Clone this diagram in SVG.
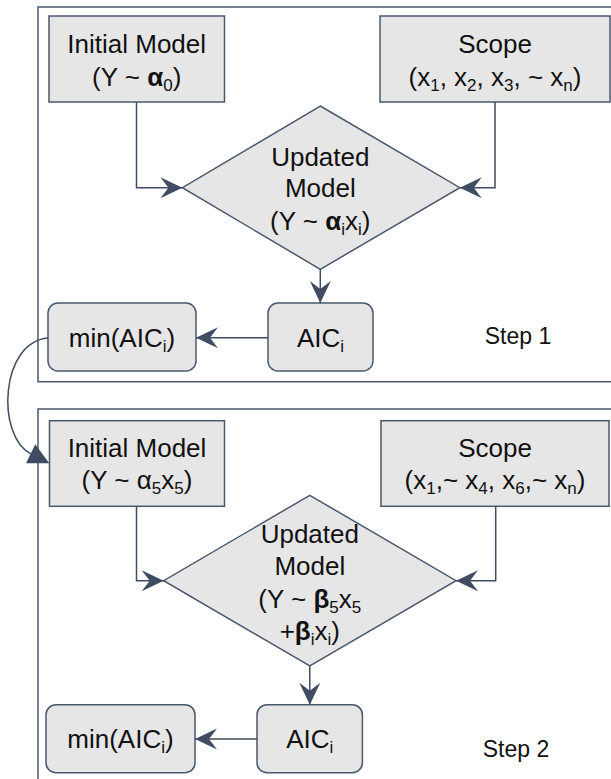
<svg xmlns="http://www.w3.org/2000/svg" width="611" height="779" viewBox="0 0 611 779">
  <style>
    .frame{fill:none;stroke:#4a586e;stroke-width:1.5}
    .box{fill:#e6e6e6;stroke:#4a586e;stroke-width:1.5}
    .edge{fill:none;stroke:#3f4c62;stroke-width:1.5}
    text{font-family:"Liberation Sans",Arial,Helvetica,sans-serif;font-size:26px;fill:#111;text-anchor:middle}
    .sub{font-size:17px;font-weight:normal}
    .b{font-weight:bold}
    .step{font-size:23px}
  </style>
  <defs>
    <marker id="arr" markerUnits="userSpaceOnUse" markerWidth="26" markerHeight="26" viewBox="-24 -13 26 26" refX="0" refY="0" orient="auto">
      <path d="M0,0 L-22,-10.5 L-14,0 L-22,10.5 Z" fill="#3f4c62"/>
    </marker>
  </defs>

  <!-- Step frames -->
  <g id="frame-step1">
    <rect class="frame" x="38" y="7" width="600" height="374.7"/>
    <text class="step" x="518" y="344">Step 1</text>
  </g>
  <g id="frame-step2">
    <rect class="frame" x="38" y="409" width="600" height="400"/>
    <text class="step" x="516" y="757">Step 2</text>
  </g>

  <!-- Step 1 nodes -->
  <g id="s1-initial">
    <rect class="box" x="49" y="16" width="175.5" height="86"/>
    <text x="136.7" y="52.7">Initial Model</text>
    <text x="136.7" y="86">(Y ~ <tspan class="b">α</tspan><tspan class="sub" dy="5">0</tspan><tspan dy="-5">)</tspan></text>
  </g>
  <g id="s1-scope">
    <rect class="box" x="380" y="16" width="230" height="86"/>
    <text x="495" y="52.7">Scope</text>
    <text x="495" y="86">(x<tspan class="sub" dy="5">1</tspan><tspan dy="-5">, x</tspan><tspan class="sub" dy="5">2</tspan><tspan dy="-5">, x</tspan><tspan class="sub" dy="5">3</tspan><tspan dy="-5">, ~ x</tspan><tspan class="sub" dy="5">n</tspan><tspan dy="-5">)</tspan></text>
  </g>
  <g id="s1-updated">
    <polygon class="box" points="320.3,106 459.8,187.7 320.3,269.3 182.4,187.7"/>
    <text x="320.3" y="165.5">Updated</text>
    <text x="320.3" y="197">Model</text>
    <text x="320.3" y="229.5">(Y ~ <tspan class="b">α</tspan><tspan class="sub" dy="5">i</tspan><tspan dy="-5">x</tspan><tspan class="sub" dy="5">i</tspan><tspan dy="-5">)</tspan></text>
  </g>
  <g id="s1-aic">
    <rect class="box" x="268" y="303" width="105" height="68" rx="10"/>
    <text x="320.5" y="346.5">AIC<tspan class="sub" dy="5">i</tspan></text>
  </g>
  <g id="s1-min">
    <rect class="box" x="48" y="303" width="148" height="68" rx="10"/>
    <text x="122" y="346.5">min(AIC<tspan class="sub" dy="5">i</tspan><tspan dy="-5">)</tspan></text>
  </g>

  <!-- Step 2 nodes -->
  <g id="s2-initial">
    <rect class="box" x="49.5" y="420.7" width="175" height="85.6"/>
    <text x="137" y="456.7">Initial Model</text>
    <text x="137" y="488.5">(Y ~ α<tspan class="sub" dy="5">5</tspan><tspan dy="-5">x</tspan><tspan class="sub" dy="5">5</tspan><tspan dy="-5">)</tspan></text>
  </g>
  <g id="s2-scope">
    <rect class="box" x="381" y="420.7" width="228" height="85.6"/>
    <text x="495" y="456.7">Scope</text>
    <text x="495" y="488.5">(x<tspan class="sub" dy="5">1</tspan><tspan dy="-5">,~ x</tspan><tspan class="sub" dy="5">4</tspan><tspan dy="-5">, x</tspan><tspan class="sub" dy="5">6</tspan><tspan dy="-5">,~ x</tspan><tspan class="sub" dy="5">n</tspan><tspan dy="-5">)</tspan></text>
  </g>
  <g id="s2-updated">
    <polygon class="box" points="309.8,495.3 456,580.7 309.8,666 163.7,580.7"/>
    <text x="309.8" y="543">Updated</text>
    <text x="309.8" y="575">Model</text>
    <text x="309.8" y="608">(Y ~ <tspan class="b">β</tspan><tspan class="sub" dy="5">5</tspan><tspan dy="-5">x</tspan><tspan class="sub" dy="5">5</tspan></text>
    <text x="309.8" y="640">+<tspan class="b">β</tspan><tspan class="sub" dy="5">i</tspan><tspan dy="-5">x</tspan><tspan class="sub" dy="5">i</tspan><tspan dy="-5">)</tspan></text>
  </g>
  <g id="s2-aic">
    <rect class="box" x="257" y="704.7" width="105.4" height="68" rx="10"/>
    <text x="309.7" y="748">AIC<tspan class="sub" dy="5">i</tspan></text>
  </g>
  <g id="s2-min">
    <rect class="box" x="46" y="704.7" width="149" height="68" rx="10"/>
    <text x="120.5" y="748">min(AIC<tspan class="sub" dy="5">i</tspan><tspan dy="-5">)</tspan></text>
  </g>

  <!-- Connectors -->
  <g id="connectors">
    <path class="edge" d="M136.5,102 V187.7 H182.4" marker-end="url(#arr)"/>
    <path class="edge" d="M495,102 V187.7 H459.8" marker-end="url(#arr)"/>
    <path class="edge" d="M320.3,269.3 V303" marker-end="url(#arr)"/>
    <path class="edge" d="M268,337.7 H196" marker-end="url(#arr)"/>
    <path class="edge" d="M48,338 C0,342 -4,436 30.7,453.8"/>
    <polygon points="26,463.3 49.3,463.3 35.3,444.3" fill="#3f4c62"/>
    <path class="edge" d="M136.5,506.3 V580.7 H163.7" marker-end="url(#arr)"/>
    <path class="edge" d="M495.7,506.3 V580.7 H456" marker-end="url(#arr)"/>
    <path class="edge" d="M309.8,666 V704.7" marker-end="url(#arr)"/>
    <path class="edge" d="M257,739 H195" marker-end="url(#arr)"/>
  </g>
</svg>
